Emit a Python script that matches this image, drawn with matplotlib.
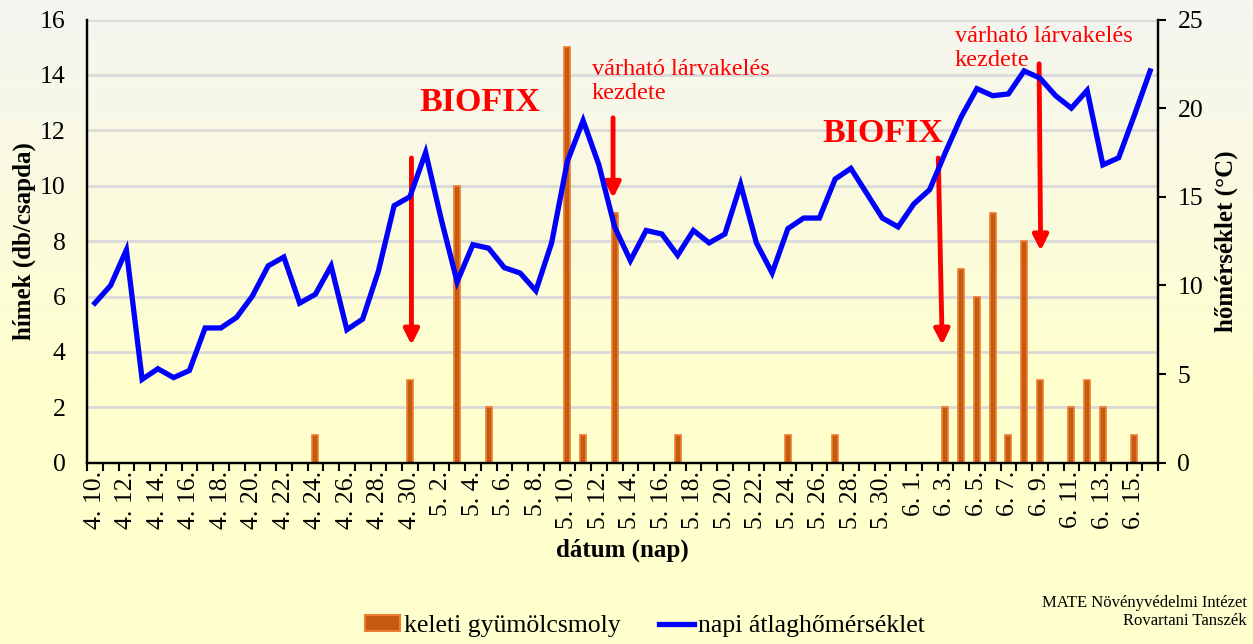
import numpy as np
import matplotlib
matplotlib.use("Agg")
import matplotlib.pyplot as plt
from matplotlib.patches import Patch
from matplotlib.lines import Line2D

plt.rcParams['font.family'] = ['Liberation Serif', 'DejaVu Serif']

# ---------------- data ----------------
dates = ([f"4. {d}." for d in range(10, 31)] +
         [f"5. {d}." for d in range(1, 32)] +
         [f"6. {d}." for d in range(1, 17)])

temperature = [9.0, 10.0, 12.0, 4.7, 5.3, 4.8, 5.2, 7.6, 7.6, 8.2,
               9.4, 11.1, 11.6, 9.0, 9.5, 11.1, 7.5, 8.1, 10.8, 14.5,
               15.0, 17.5, 13.7, 10.2, 12.3, 12.1, 11.0, 10.7, 9.7, 12.4,
               17.0, 19.3, 16.8, 13.3, 11.4, 13.1, 12.9, 11.7, 13.1, 12.4,
               12.9, 15.7, 12.4, 10.7, 13.2, 13.8, 13.8, 16.0, 16.6, 15.2,
               13.8, 13.3, 14.6, 15.4, 17.5, 19.5, 21.1, 20.7, 20.8, 22.1,
               21.7, 20.7, 20.0, 21.0, 16.8, 17.2, 19.6, 22.1]

moths = [0, 0, 0, 0, 0, 0, 0, 0, 0, 0,
         0, 0, 0, 0, 1, 0, 0, 0, 0, 0,
         3, 0, 0, 10, 0, 2, 0, 0, 0, 0,
         15, 1, 0, 9, 0, 0, 0, 1, 0, 0,
         0, 0, 0, 0, 1, 0, 0, 1, 0, 0,
         0, 0, 0, 0, 2, 7, 6, 9, 1, 8,
         3, 0, 2, 3, 2, 0, 1, 0]

series_names = ["keleti gyümölcsmoly", "napi átlaghőmérséklet"]
y_left_label = "hímek (db/csapda)"
y_right_label = "hőmérséklet (°C)"
x_label = "dátum (nap)"
biofix_text = "BIOFIX"
larva_text = "várható lárvakelés\nkezdete"
credit_text = "MATE Növényvédelmi Intézet\nRovartani Tanszék"

# ---------------- figure ----------------
W, H = 1253, 644
fig = plt.figure(figsize=(W / 100, H / 100), dpi=100)

# background gradient
bg = fig.add_axes([0, 0, 1, 1], zorder=-10)
n = 256
t = np.linspace(0, 1, n)
t = np.clip(t / 0.6, 0, 1)
top = np.array([245, 245, 242]) / 255
bot = np.array([255, 255, 205]) / 255
grad = top[None, :] * (1 - t[:, None]) + bot[None, :] * t[:, None]
bg.imshow(grad[:, None, :], aspect='auto', extent=[0, 1, 0, 1], origin='upper')
bg.axis('off')

L, R = 87 / W, 1158 / W
B, T = 1 - 462.7 / H, 1 - 19.5 / H
ax = fig.add_axes([L, B, R - L, T - B])
ax.patch.set_alpha(0)
ax2 = ax.twinx()
ax2.patch.set_alpha(0)

x = np.arange(len(dates))

# gridlines
ax.set_ylim(0, 16)
ax.set_yticks(np.arange(0, 17, 2))
ax.yaxis.grid(True, color='#D9D9D9', linewidth=2)
ax.set_axisbelow(True)

bar_color = '#C55A11'
bar_edge = '#ED7D31'
ax.bar(x, moths, width=0.38, color=bar_color, edgecolor=bar_edge,
       linewidth=1.2, zorder=2)

ax2.plot(x, temperature, color='#0000FF', linewidth=3.8, zorder=3,
         solid_joinstyle='miter')
ax2.set_ylim(0, 25)
ax2.set_yticks(np.arange(0, 26, 5))

ax.set_xlim(-0.5, len(dates) - 0.5)
ax.set_xticks(x[::2])
ax.set_xticklabels(dates[::2], rotation=90, fontsize=18.5)
ax.set_xticks(np.arange(-0.5, len(dates), 1), minor=True)
ax.tick_params(axis='x', which='major', length=0, pad=6)
ax.tick_params(axis='x', which='minor', length=6, width=1.5, direction='out')
ax.tick_params(axis='y', length=0, labelsize=18.5, pad=15.5)
ax2.tick_params(axis='y', length=6, width=1.5, labelsize=18.5, pad=8)

for a in (ax, ax2):
    a.spines['top'].set_visible(False)
    for s in ('left', 'right', 'bottom'):
        a.spines[s].set_linewidth(1.6)
        a.spines[s].set_color('black')

ax.set_ylabel(y_left_label, fontsize=18, fontweight='bold', labelpad=3)
ax2.set_ylabel(y_right_label, fontsize=18, fontweight='bold', labelpad=8)
ax.set_xlabel(x_label, fontsize=18, fontweight='bold', labelpad=7)

# annotations (on left axis coordinates)
red = '#FF0000'
arrow_kw = dict(arrowstyle='-|>,head_length=0.9,head_width=0.45',
                color=red, lw=3.5, shrinkA=0, shrinkB=0)
ax.annotate('', xy=(20.1, 4.25), xytext=(20.1, 11.0), arrowprops=arrow_kw, zorder=5)
ax.annotate('', xy=(32.9, 9.55), xytext=(32.9, 12.45), arrowprops=arrow_kw, zorder=5)
ax.annotate('', xy=(53.8, 4.25), xytext=(53.55, 11.0), arrowprops=arrow_kw, zorder=5)
ax.annotate('', xy=(60.05, 7.65), xytext=(59.95, 14.4), arrowprops=arrow_kw, zorder=5)

ax.text(24.45, 13.0, biofix_text, color=red, fontsize=24.5, fontweight='bold',
        ha='center', va='center', zorder=6)
ax.text(50.05, 11.9, biofix_text, color=red, fontsize=24.5, fontweight='bold',
        ha='center', va='center', zorder=6)
ax.text(31.56, 13.76, larva_text, color=red, fontsize=17.5, ha='left',
        va='center', linespacing=1.2, zorder=6)
ax.text(54.6, 14.95, larva_text, color=red, fontsize=17.5, ha='left',
        va='center', linespacing=1.2, zorder=6)

# legend
handles = [Patch(facecolor=bar_color, edgecolor=bar_edge, linewidth=1.5),
           Line2D([0], [0], color='#0000FF', linewidth=3.8)]
fig.legend(handles, series_names, loc='center', ncol=2,
           bbox_to_anchor=(645 / W, 1 - 626 / H), frameon=False,
           fontsize=18.5, handlelength=1.35, handleheight=0.6,
           handletextpad=0.15, columnspacing=1.5)

fig.text(1247 / W, 1 - 612 / H, credit_text, ha='right', va='center',
         fontsize=12, linespacing=1.2)

fig.savefig('out.png', dpi=100)
